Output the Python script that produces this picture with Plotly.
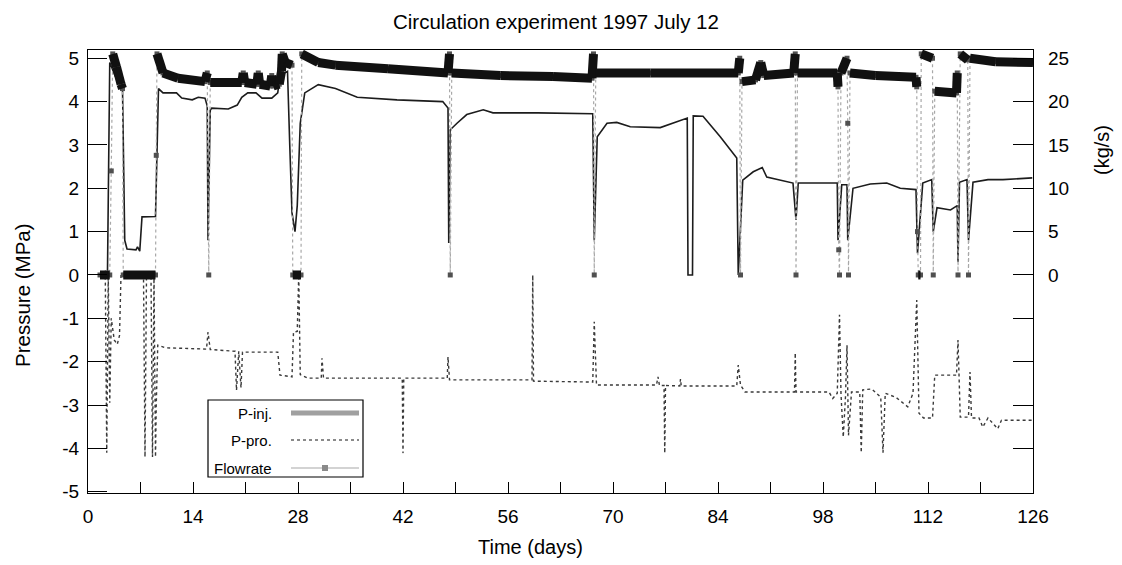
import plotly.graph_objects as go

# ---------------- data ----------------
# Flowrate (kg/s), right axis
flow_days = [1.6, 2.9, 3.1, 3.3, 3.8, 4.4, 4.6, 4.7, 9.0, 9.1, 9.2, 10.0, 12.0, 15.6, 15.9, 16.1,
             16.3, 20.5, 20.7, 20.9, 22.5, 22.7, 22.9, 24.3, 24.5, 24.7, 25.5, 25.8, 25.9, 26.3,
             27.2, 27.3, 28.4, 28.5, 30.7, 33.0, 40.0, 48.0, 48.2, 48.3, 48.5, 55.0, 62.0, 67.2,
             67.4, 67.5, 67.7, 75.0, 80.0, 86.7, 86.9, 87.0, 87.2, 89.0, 89.7, 90.1, 94.1, 94.3,
             94.4, 94.6, 99.9, 100.0, 100.1, 100.2, 100.4, 101.2, 101.3, 101.4, 101.6, 105.0,
             110.4, 110.5, 110.6, 110.7, 111.0, 111.1, 112.6, 112.7, 112.9, 115.8, 115.9, 116.0,
             116.3, 117.3, 117.4, 117.6, 121.0, 126.0]
flow_kgs = [0, 0, 12.0, 25.5, 24.0, 22.0, 21.5, 0, 0, 13.8, 25.5, 23.3, 22.7, 22.3, 23.3, 0,
            22.2, 22.2, 23.3, 22.2, 22.0, 23.3, 22.0, 21.8, 23.0, 21.8, 22.0, 23.5, 25.5, 24.5,
            24.2, 0, 0, 25.5, 24.5, 24.2, 23.8, 23.3, 25.5, 0, 23.3, 23.0, 22.9, 22.7,
            25.5, 0, 23.3, 23.3, 23.3, 23.3, 25.0, 0, 22.3, 22.5, 24.5, 23.0, 23.3, 25.5,
            0, 23.3, 23.3, 21.7, 2.9, 0, 23.3, 25.0, 17.5, 0, 23.3, 23.0,
            22.8, 21.7, 5.0, 0, 0, 25.5, 25.0, 0, 21.2, 21.0, 23.3, 0,
            25.5, 24.8, 0, 25.0, 24.6, 24.5]

# Injection pressure (MPa)
pinj_days = [2.6, 2.9, 3.6, 4.3, 4.6, 4.9, 5.2, 6.4, 6.6, 6.9, 7.2, 9.0, 9.4, 10.0, 11.8, 12.5,
             13.9, 14.7, 15.6, 15.9, 16.0, 16.3, 16.5, 18.7, 19.9, 20.5, 21.3, 22.4, 23.2, 24.5,
             25.3, 25.6, 26.6, 26.9, 27.2, 27.6, 27.9, 28.3, 28.9, 30.7, 33.0, 35.9, 41.2, 47.3,
             48.0, 48.1, 48.3, 49.2, 50.5, 52.7, 54.0, 60.0, 67.3, 67.5, 67.9, 69.2, 70.5, 72.3,
             76.3, 79.9, 80.0, 80.6, 80.7, 82.0, 84.3, 86.5, 86.7, 87.3, 88.7, 89.9, 90.5, 94.0,
             94.4, 94.7, 99.9, 100.0, 100.5, 101.2, 101.3, 102.0, 104.3, 106.5, 108.3, 110.4,
             110.6, 111.3, 112.5, 112.7, 113.2, 115.0, 115.6, 115.9, 116.0, 116.2, 117.2, 117.4,
             118.0, 120.0, 122.0, 125.9]
pinj_mpa = [0.1, 4.9, 4.6, 4.4, 4.3, 0.8, 0.6, 0.58, 0.65, 0.55, 1.34, 1.35, 4.3, 4.2, 4.2, 4.08,
            4.04, 4.1, 4.08, 3.9, 0.8, 3.8, 3.85, 3.83, 3.92, 4.1, 4.2, 4.2, 4.08, 4.08,
            4.2, 4.6, 4.7, 3.0, 1.43, 1.0, 1.6, 3.5, 4.2, 4.39, 4.3, 4.1, 4.04, 4.0,
            3.85, 0.74, 3.35, 3.5, 3.7, 3.81, 3.74, 3.74, 3.72, 0.8, 3.19, 3.5, 3.52, 3.42,
            3.4, 3.62, 0.0, 0.0, 3.67, 3.66, 3.19, 2.7, 0.0, 2.19, 2.38, 2.48, 2.26, 2.12,
            1.27, 2.12, 2.12, 0.8, 2.08, 2.08, 0.8, 2.0, 2.1, 2.12, 2.0, 1.97,
            0.5, 2.12, 2.2, 1.0, 1.55, 1.5, 1.58, 1.6, 0.3, 2.14, 2.2, 0.8,
            2.14, 2.2, 2.2, 2.24]

# Production pressure (MPa)
ppro_days = [2.3, 2.5, 2.7, 2.9, 3.1, 3.5, 3.9, 4.2, 4.4, 7.4, 7.6, 7.8, 8.4, 8.6, 8.8, 9.0,
             9.1, 9.3, 10.3, 15.8, 16.0, 16.3, 19.6, 19.8, 20.1, 20.4, 20.6, 25.3, 25.6, 27.2,
             27.4, 27.9, 28.1, 28.3, 29.3, 31.1, 31.2, 31.4, 41.9, 42.0, 42.1, 47.9, 48.0, 48.2,
             59.2, 59.3, 59.4, 67.3, 67.5, 67.8, 75.8, 76.0, 76.2, 76.8, 76.9, 77.0, 78.9, 79.0,
             79.1, 86.5, 86.7, 87.0, 87.6, 94.2, 94.3, 94.4, 98.8, 99.3, 99.9, 100.2, 100.4,
             100.7, 101.0, 101.2, 101.4, 101.8, 102.9, 103.1, 103.3, 104.5, 105.7, 106.0, 106.3,
             107.7, 109.3, 110.0, 110.5, 110.8, 111.4, 112.6, 112.9, 115.8, 116.0, 116.3, 117.4,
             117.6, 117.8, 118.8, 119.3, 120.0, 121.3, 121.8, 126.0]
ppro_mpa = [0.1, -4.1, 0.0, -2.95, -1.0, -1.5, -1.6, -1.4, 0.0, 0.0, -4.2, 0.0, 0.0, -4.2, 0.0, -4.2,
            -3.0, -1.62, -1.68, -1.71, -1.32, -1.72, -1.76, -2.66, -1.76, -2.6, -1.78, -1.78, -2.31, -2.35,
            -1.32, -1.3, 0.0, -2.3, -2.38, -2.38, -1.92, -2.38, -2.38, -4.11, -2.38, -2.38, -1.89, -2.42,
            -2.42, 0.0, -2.45, -2.47, -1.08, -2.54, -2.54, -2.35, -2.55, -2.55, -4.11, -2.55, -2.56, -2.4,
            -2.56, -2.56, -2.08, -2.54, -2.7, -2.7, -1.8, -2.7, -2.7, -2.85, -2.73, -0.92, -2.75,
            -3.74, -2.8, -1.62, -3.7, -2.7, -2.7, -4.1, -2.65, -2.63, -2.82, -4.1, -2.73,
            -2.82, -3.04, -2.73, -0.58, -3.19, -3.3, -3.3, -2.31, -2.31, -1.5, -3.28, -3.28,
            -2.24, -3.3, -3.3, -3.51, -3.3, -3.55, -3.35, -3.35]

x_tick_vals = list(range(0, 127, 7))
x_tick_text = [str(v) if v % 14 == 0 else "" for v in x_tick_vals]
y_tick_vals = [-5, -4, -3, -2, -1, 0, 1, 2, 3, 4, 5]
y_tick_text = ["-5", "-4", "-3", "-2", "-1", "0", "1", "2", "3", "4", "5"]
y2_tick_vals = [-20, -15, -10, -5, 0, 5, 10, 15, 20, 25]
y2_tick_text = ["", "", "", "", "0", "5", "10", "15", "20", "25"]
legend_names = ["P-inj.", "P-pro.", "Flowrate"]

title_text = "Circulation experiment 1997 July 12"
x_title = "Time (days)"
y_title = "Pressure (MPa)"
y2_title = "(kg/s)"

# ---------------- layout geometry (reference pixel coords) ----------------
OFF = 8                      # page body margin of the html page
W_REF, H_REF = 1122, 565
L, R, T, B = 88, 1033, 50, 493
Y_LO, Y_HI = -5.03, 5.19
FONT = "Liberation Sans, Arial, sans-serif"


def px(xp):
    return (xp - L) / (R - L)


def py(yp):
    return (B - yp) / (B - T)


fig = go.Figure()

# Flowrate: thin trace with square markers (drops and isolated points)
fig.add_trace(go.Scatter(
    x=flow_days, y=flow_kgs, yaxis="y2", mode="lines+markers",
    line=dict(color="#a8a8a8", width=1.2, dash="dot"),
    marker=dict(symbol="square", size=5, color="#505050"),
    showlegend=False, name="Flowrate"))

# P-pro: dotted
fig.add_trace(go.Scatter(
    x=ppro_days, y=ppro_mpa, mode="lines",
    line=dict(color="#3a3a3a", width=1.4, dash="dot"),
    showlegend=False, name="P-pro."))

# P-inj: thin solid
fig.add_trace(go.Scatter(
    x=pinj_days, y=pinj_mpa, mode="lines",
    line=dict(color="#1c1c1c", width=1.6),
    showlegend=False, name="P-inj."))


# Flowrate dense band (runs of steady flow / zero flow)
def state(v):
    if v >= 20:
        return "high"
    if v == 0:
        return "zero"
    return None


bx, by = [], []
for i in range(len(flow_days) - 1):
    s1, s2 = state(flow_kgs[i]), state(flow_kgs[i + 1])
    if s1 is not None and s1 == s2:
        bx += [flow_days[i], flow_days[i + 1], None]
        by += [flow_kgs[i], flow_kgs[i + 1], None]
fig.add_trace(go.Scatter(
    x=bx, y=by, yaxis="y2", mode="lines",
    line=dict(color="#111111", width=9),
    showlegend=False, hoverinfo="skip"))

# ---------------- manual legend (text left, sample right) ----------------
shapes = []
annotations = []
shapes.append(dict(type="rect", xref="paper", yref="paper",
                   x0=px(208), x1=px(363), y0=py(477), y1=py(400),
                   line=dict(color="black", width=1.2), fillcolor="white", layer="above"))
rows = [413, 440, 468]
for name, yy in zip(legend_names, rows):
    annotations.append(dict(text=name, xref="paper", yref="paper", x=px(274), y=py(yy),
                            xanchor="right", yanchor="middle", showarrow=False,
                            font=dict(family=FONT, size=15, color="black")))
shapes.append(dict(type="line", xref="paper", yref="paper", x0=px(291), x1=px(359),
                   y0=py(rows[0]), y1=py(rows[0]), line=dict(color="#a0a0a0", width=5),
                   layer="above"))
shapes.append(dict(type="line", xref="paper", yref="paper", x0=px(291), x1=px(359),
                   y0=py(rows[1]), y1=py(rows[1]), line=dict(color="#8a8a8a", width=2, dash="dot"),
                   layer="above"))
shapes.append(dict(type="line", xref="paper", yref="paper", x0=px(291), x1=px(359),
                   y0=py(rows[2]), y1=py(rows[2]), line=dict(color="#c4c4c4", width=1.5),
                   layer="above"))
shapes.append(dict(type="rect", xref="paper", yref="paper", x0=px(322), x1=px(328),
                   y0=py(rows[2] + 3), y1=py(rows[2] - 3), line=dict(width=0),
                   fillcolor="#8a8a8a", layer="above"))

# titles as annotations
annotations.append(dict(text=title_text, xref="paper", yref="paper", x=px(556), y=py(21),
                        xanchor="center", yanchor="middle", showarrow=False,
                        font=dict(family=FONT, size=20.5, color="black")))
annotations.append(dict(text=x_title, xref="paper", yref="paper", x=px(530), y=py(547),
                        xanchor="center", yanchor="middle", showarrow=False,
                        font=dict(family=FONT, size=20, color="black")))
annotations.append(dict(text=y_title, xref="paper", yref="paper", x=px(22), y=py(295),
                        xanchor="center", yanchor="middle", showarrow=False, textangle=-90,
                        font=dict(family=FONT, size=20.5, color="black")))
annotations.append(dict(text=y2_title, xref="paper", yref="paper", x=px(1102), y=py(150),
                        xanchor="center", yanchor="middle", showarrow=False, textangle=-90,
                        font=dict(family=FONT, size=20, color="black")))

fig.update_layout(
    width=W_REF - OFF, height=H_REF - OFF,
    margin=dict(l=L - OFF, r=W_REF - R, t=T - OFF, b=H_REF - B, pad=0),
    paper_bgcolor="white", plot_bgcolor="white",
    showlegend=False,
    font=dict(family=FONT, size=19, color="black"),
    xaxis=dict(range=[0, 126], tickmode="array", tickvals=x_tick_vals, ticktext=x_tick_text,
               ticks="inside", ticklen=11, tickwidth=1.2, tickcolor="black",
               showline=True, linecolor="black", linewidth=1.2, mirror=True,
               showgrid=False, zeroline=False, ticklabelstandoff=6,
               tickfont=dict(family=FONT, size=19)),
    yaxis=dict(range=[Y_LO, Y_HI], tickmode="array", tickvals=y_tick_vals, ticktext=y_tick_text,
               ticks="inside", ticklen=19, tickwidth=1.2, tickcolor="black",
               showline=True, linecolor="black", linewidth=1.2,
               showgrid=False, zeroline=False, ticklabelstandoff=4,
               tickfont=dict(family=FONT, size=19)),
    yaxis2=dict(range=[Y_LO * 5, Y_HI * 5], overlaying="y", side="right",
                tickmode="array", tickvals=y2_tick_vals, ticktext=y2_tick_text,
                ticks="inside", ticklen=20, tickwidth=1.2, tickcolor="black",
                showline=True, linecolor="black", linewidth=1.2,
                showgrid=False, zeroline=False, ticklabelstandoff=10,
                tickfont=dict(family=FONT, size=19)),
    shapes=shapes, annotations=annotations,
)

fig.write_html("out.html")
